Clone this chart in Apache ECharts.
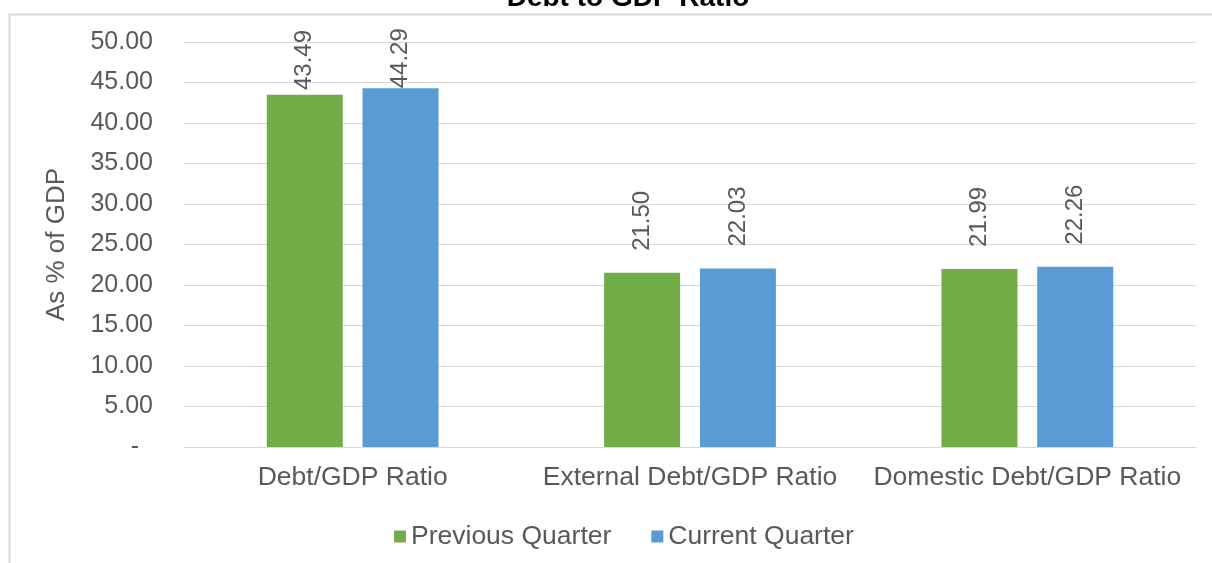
<!DOCTYPE html>
<html>
<head>
<meta charset="utf-8">
<script src="https://cdn.jsdelivr.net/npm/echarts@6/dist/echarts.min.js"></script>
<style>html,body{margin:0;padding:0;background:#fff;}#c{width:1212px;height:563px;}</style>
</head>
<body>
<div id="c"></div>
<script>
const categories = ['Debt/GDP Ratio', 'External Debt/GDP Ratio', 'Domestic Debt/GDP Ratio'];
const previousQuarter = [43.49, 21.50, 21.99];
const currentQuarter = [44.29, 22.03, 22.26];
const seriesNames = ['Previous Quarter', 'Current Quarter'];
const titleText = 'Debt to GDP Ratio';
const yAxisName = 'As % of GDP';

const font = 'Liberation Sans, Arial, sans-serif';
const txt = '#595959';
const labelSize = 24;
const chart = echarts.init(document.getElementById('c'));
const labelCfg = {
  show: true, position: 'top', rotate: 90, align: 'left', verticalAlign: 'middle',
  distance: 23, fontSize: labelSize, color: txt, fontFamily: font,
  formatter: p => p.value.toFixed(2)
};
const colors = ['#70ad47', '#5b9bd5'];
const seriesData = [previousQuarter, currentQuarter];
function buildSeries(dists) {
  return seriesData.map((arr, i) => ({
    name: seriesNames[i], type: 'bar', itemStyle: { color: colors[i] },
    barWidth: 76, barGap: '26%', label: labelCfg,
    data: arr.map((v, j) => dists ? { value: v, label: { distance: dists[i][j] } } : v)
  }));
}
chart.setOption({
  animation: false,
  graphic: [{
    type: 'rect', left: 7, top: 12, shape: { width: 1300, height: 700 },
    style: { fill: 'none', stroke: '#d9d9d9', lineWidth: 2 }, z: -10
  }],
  title: {
    text: titleText, left: 623, textAlign: 'center', top: -21,
    textStyle: { fontFamily: font, fontSize: 28, fontWeight: 'bold', color: '#000' }
  },
  legend: {
    data: seriesNames, left: 389, top: 518, itemWidth: 12, itemHeight: 12, itemGap: 40,
    icon: 'rect',
    textStyle: { fontFamily: font, fontSize: 26.5, color: txt }
  },
  grid: { left: 184, right: 16, top: 42, bottom: 116 },
  xAxis: {
    type: 'category', data: categories,
    axisLine: { lineStyle: { color: '#d9d9d9', width: 1 } },
    axisTick: { show: false },
    axisLabel: { fontFamily: font, fontSize: 26.5, color: txt, margin: 17, interval: 0, hideOverlap: false }
  },
  yAxis: {
    type: 'value', min: 0, max: 50, interval: 5,
    name: yAxisName, nameLocation: 'middle', nameGap: 114,
    nameTextStyle: { fontFamily: font, fontSize: 26, color: txt },
    axisLine: { show: false }, axisTick: { show: false },
    splitLine: { lineStyle: { color: '#d9d9d9', width: 1 } },
    axisLabel: {
      fontFamily: font, fontSize: 25, color: txt, margin: 31,
      formatter: v => v === 0 ? '-  ' : v.toFixed(2)
    }
  },
  series: buildSeries(null)
});
// keep labels inside the chart area: shift tall labels down like the original
const ctx = document.createElement('canvas').getContext('2d');
ctx.font = labelSize + 'px ' + font;
const plotTop = chart.convertToPixel({ yAxisIndex: 0 }, 50);
const dists = seriesData.map(arr => arr.map(v => {
  const top = chart.convertToPixel({ yAxisIndex: 0 }, v);
  const len = ctx.measureText(v.toFixed(2)).width;
  return Math.max(0, Math.min(22, top - len - (plotTop - 12)));
}));
chart.setOption({ series: buildSeries(dists) });
</script>
</body>
</html>
